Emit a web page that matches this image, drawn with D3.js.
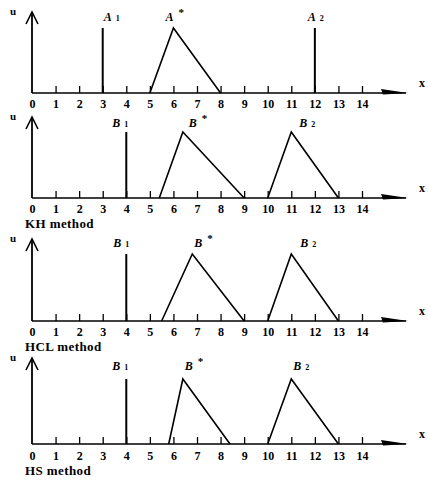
<!DOCTYPE html>
<html>
<head>
<meta charset="utf-8">
<script src="https://cdn.jsdelivr.net/npm/d3@7"></script>
<style>
  body { margin: 0; background: #fff; }
  .tick text { font-family: "Liberation Serif", serif; font-weight: bold; font-size: 12px; fill: #000; }
</style>
</head>
<body>
<div id="chart"></div>
<script>
//////////////////// data ////////////////////////////////////
// tick labels on every x axis
const xTicks = [0, 1, 2, 3, 4, 5, 6, 7, 8, 9, 10, 11, 12, 13, 14];
// caption under each strip (first strip has none)
const methodNames = ["", "KH method", "HCL method", "HS method"];
// crisp spikes (membership 1 at one x)
const spikeX = [[3, 12], [4], [4], [4]];
const spikeNames = [[["A", "1"], ["A", "2"]], [["B", "1"]], [["B", "1"]], [["B", "1"]]];
// triangular fuzzy sets: [left, peak, right]
const starTri = [[5, 6, 8], [5.4, 6.4, 9], [5.5, 6.8, 9], [5.8, 6.4, 8.4]];
const starNames = ["A", "B", "B", "B"];
const secondTri = [null, [10, 11, 13], [10, 11, 13], [10, 11, 13]];
const secondNames = [null, ["B", "2"], ["B", "2"], ["B", "2"]];

//////////////////// layout ////////////////////////////////////
const width = 428, height = 480;
const strips = [
  {base: 93,  top: 12,  peak: 65, pad: 6,   captionY: null, spikeDx: [1, -7], starDx: -8, secondDx: 0, up: 7},
  {base: 198, top: 117, peak: 66, pad: 6.5, captionY: 228,  spikeDx: [-14],   starDx: 6,  secondDx: 8, up: 5},
  {base: 321, top: 239, peak: 67, pad: 6.5, captionY: 351,  spikeDx: [-13],   starDx: 2,  secondDx: 9, up: 7},
  {base: 444, top: 358, peak: 65, pad: 7.5, captionY: 475,  spikeDx: [-14],   starDx: 2,  secondDx: 2, up: 9}
];
const serif = "'Liberation Serif', 'DejaVu Serif', serif";

let svg = d3.select("#chart")
            .append("svg")
            .attr("width", width)
            .attr("height", height)
            .style("background", "#fff");

let x = d3.scaleLinear().domain([0, 14]).range([32, 362]);

////////////////// draw each strip ////////////////////////////////////
strips.forEach(function(s, i) {
  let g = svg.append("g");
  let y = d3.scaleLinear().domain([0, 1]).range([s.base, s.base - s.peak]);

  // ticks + labels
  let ax = g.append("g")
            .attr("transform", `translate(0,${s.base})`)
            .call(d3.axisBottom(x)
                    .tickValues(xTicks)
                    .tickSize(-7)
                    .tickPadding(s.pad)
                    .tickFormat(d3.format("d")));
  ax.select(".domain").remove();
  ax.selectAll(".tick line").attr("stroke", "#000").attr("stroke-width", 1.3)
    .filter(function(d) { return d === 0; }).remove();

  // x axis line + arrow
  g.append("line")
   .attr("x1", x(0)).attr("x2", 406)
   .attr("y1", s.base).attr("y2", s.base)
   .attr("stroke", "#000").attr("stroke-width", 1.6);
  g.append("path")
   .attr("d", `M381,${s.base - 4} L408,${s.base} L383,${s.base + 1.5} Z`)
   .attr("fill", "#000");
  g.append("text")
   .attr("x", 419).attr("y", s.base - 6)
   .attr("font-family", serif).attr("font-weight", "bold").attr("font-size", 12)
   .text("x");

  // y axis + open arrow head
  g.append("line")
   .attr("x1", x(0)).attr("x2", x(0))
   .attr("y1", s.base).attr("y2", s.top)
   .attr("stroke", "#000").attr("stroke-width", 1.8);
  g.append("path")
   .attr("d", `M${x(0) - 6},${s.top + 12} L${x(0)},${s.top} L${x(0) + 6},${s.top + 12}`)
   .attr("fill", "none").attr("stroke", "#000").attr("stroke-width", 1.6);
  g.append("text")
   .attr("x", 10).attr("y", s.top + 3)
   .attr("font-family", serif).attr("font-weight", "bold").attr("font-size", 11)
   .text("u");

  // spikes
  spikeX[i].forEach(function(v, k) {
    g.append("line")
     .attr("x1", x(v)).attr("x2", x(v))
     .attr("y1", y(0)).attr("y2", y(1))
     .attr("stroke", "#000").attr("stroke-width", 2);
    addLabel(g, x(v) + s.spikeDx[k], y(1) - s.up, spikeNames[i][k][0], spikeNames[i][k][1], false);
  });

  // triangles
  let line = d3.line().x(function(d) { return x(d[0]); }).y(function(d) { return y(d[1]); });
  let tri = function(t) { return [[t[0], 0], [t[1], 1], [t[2], 0]]; };

  g.append("path")
   .datum(tri(starTri[i]))
   .attr("d", line)
   .attr("fill", "none").attr("stroke", "#000").attr("stroke-width", 1.6);
  addLabel(g, x(starTri[i][1]) + s.starDx, y(1) - s.up, starNames[i], "*", true);

  if (secondTri[i]) {
    g.append("path")
     .datum(tri(secondTri[i]))
     .attr("d", line)
     .attr("fill", "none").attr("stroke", "#000").attr("stroke-width", 1.6);
    addLabel(g, x(secondTri[i][1]) + s.secondDx, y(1) - s.up, secondNames[i][0], secondNames[i][1], false);
  }

  // caption
  if (s.captionY) {
    g.append("text")
     .attr("x", 25).attr("y", s.captionY)
     .attr("font-family", serif).attr("font-weight", "bold").attr("font-size", 13)
     .attr("letter-spacing", 0.4)
     .text(methodNames[i]);
  }
});

////////////////// helper ////////////////////////////////////
// italic letter with a small index (or a raised star)
function addLabel(g, px, py, letter, idx, star) {
  let t = g.append("text")
           .attr("x", px).attr("y", py)
           .attr("font-family", serif).attr("font-weight", "bold");
  t.append("tspan").attr("font-style", "italic").attr("font-size", 12).text(letter);
  t.append("tspan")
   .attr("dx", star ? 5 : 4)
   .attr("dy", star ? -5 : 0)
   .attr("font-size", star ? 11 : 8)
   .text(idx);
}
</script>
</body>
</html>
